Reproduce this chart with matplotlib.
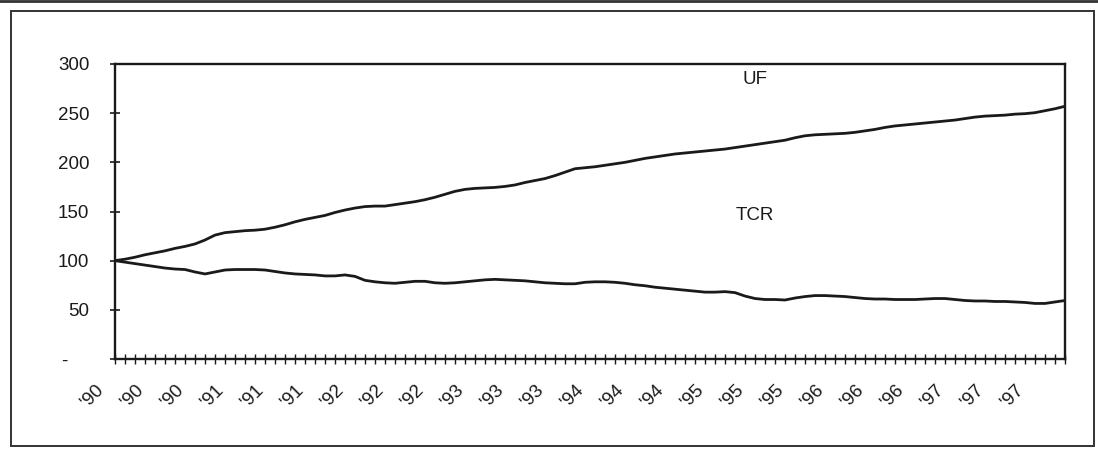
import matplotlib
matplotlib.use("Agg")
import matplotlib.pyplot as plt
from matplotlib.patches import Rectangle
from matplotlib.lines import Line2D
from matplotlib.transforms import ScaledTranslation

plt.rcParams['font.family'] = ['Liberation Sans', 'DejaVu Sans']

# Monthly index values, Jan 1990 = 100 (96 months, 1990-1997)
uf = [100, 101.5, 103.5, 106, 108, 110, 112.5, 114.5, 117, 121, 126, 128.5,
      129.5, 130.5, 131, 132, 134, 136.5, 139.5, 142, 144, 146, 149, 151.5,
      153.5, 155, 155.5, 155.5, 157, 158.5, 160, 162, 164.5, 167.5, 170.5, 172.5,
      173.5, 174, 174.5, 175.5, 177, 179.5, 181.5, 183.5, 186.5, 190, 193.5, 194.5,
      195.5, 197, 198.5, 200, 202, 204, 205.5, 207, 208.5, 209.5, 210.5, 211.5,
      212.5, 213.5, 215, 216.5, 218, 219.5, 221, 222.5, 225, 227, 228, 228.5,
      229, 229.5, 230.5, 232, 233.5, 235.5, 237, 238, 239, 240, 241, 242,
      243, 244.5, 246, 247, 247.5, 248, 249, 249.5, 250.5, 252.5, 254.5, 257]

tcr = [100, 98.5, 97, 95.5, 94, 92.5, 91.5, 91, 88.5, 86.5, 88.5, 90.5,
       91, 91, 91, 90.5, 89, 87.5, 86.5, 86, 85.5, 84.5, 84.5, 85.5,
       84, 80, 78.5, 77.5, 77, 78, 79, 79, 77.5, 77, 77.5, 78.5,
       79.5, 80.5, 81, 80.5, 80, 79.5, 78.5, 77.5, 77, 76.5, 76.5, 78,
       78.5, 78.5, 78, 77, 75.5, 74.5, 73, 72, 71, 70, 69, 68,
       68, 68.5, 67.5, 64, 61.5, 60.5, 60.5, 60, 62, 63.5, 64.5, 64.5,
       64, 63.5, 62.5, 61.5, 61, 61, 60.5, 60.5, 60.5, 61, 61.5, 61.5,
       60.5, 59.5, 59, 59, 58.5, 58.5, 58, 57.5, 56.5, 56.5, 58, 59.5]

years = ["'90", "'91", "'92", "'93", "'94", "'95", "'96", "'97"]
y_ticks = [0, 50, 100, 150, 200, 250, 300]
y_labels = ["-    ", "50", "100", "150", "200", "250", "300"]

months = list(range(len(uf)))
x_label_pos = months[::4]
x_labels = [years[m // 12] for m in x_label_pos]

W, H = 1098, 449
fig = plt.figure(figsize=(W / 100, H / 100), dpi=100)
fig.patch.set_facecolor('white')

# outer frame and the rule of the panel above
fig.add_artist(Rectangle((11 / W, 1 - 446 / H), (1094 - 11) / W, (446 - 11) / H,
                         transform=fig.transFigure, fill=False,
                         edgecolor='#333333', linewidth=1.4))
fig.add_artist(Line2D([0, 1], [1 - 1 / H, 1 - 1 / H], transform=fig.transFigure,
                      color='#333333', linewidth=2.0))

ax = fig.add_axes([115 / W, 1 - 359 / H, 950 / W, 295 / H])
ink = '#1a1a1a'
ax.plot(months, uf, color=ink, linewidth=2.0, solid_capstyle='butt')
ax.plot(months, tcr, color=ink, linewidth=2.0, solid_capstyle='butt')

ax.set_xlim(0, len(uf) - 1)
ax.set_ylim(0, 300)

for s in ax.spines.values():
    s.set_linewidth(1.7)
    s.set_color(ink)

ax.set_yticks(y_ticks)
ax.set_yticklabels(y_labels)
ax.tick_params(axis='y', direction='inout', length=7, width=1.2, pad=15,
               labelsize=13.5, colors=ink)

ax.set_xticks(months)
lbl = [''] * len(months)
for p, t in zip(x_label_pos, x_labels):
    lbl[p] = t
ax.set_xticklabels(lbl, rotation=45, ha='right', va='top')
ax.tick_params(axis='x', direction='inout', length=7, width=1.0, pad=13,
               labelsize=13.5, colors=ink)
shift = ScaledTranslation(-8 / 100, 0, fig.dpi_scale_trans)
for t in ax.get_xticklabels():
    t.set_transform(t.get_transform() + shift)

ax.text(64, 284, 'UF', ha='center', va='center', fontsize=13.5, color=ink)
ax.text(64, 146, 'TCR', ha='center', va='center', fontsize=13.5, color=ink)

fig.savefig('out.png', dpi=100, facecolor='white')
